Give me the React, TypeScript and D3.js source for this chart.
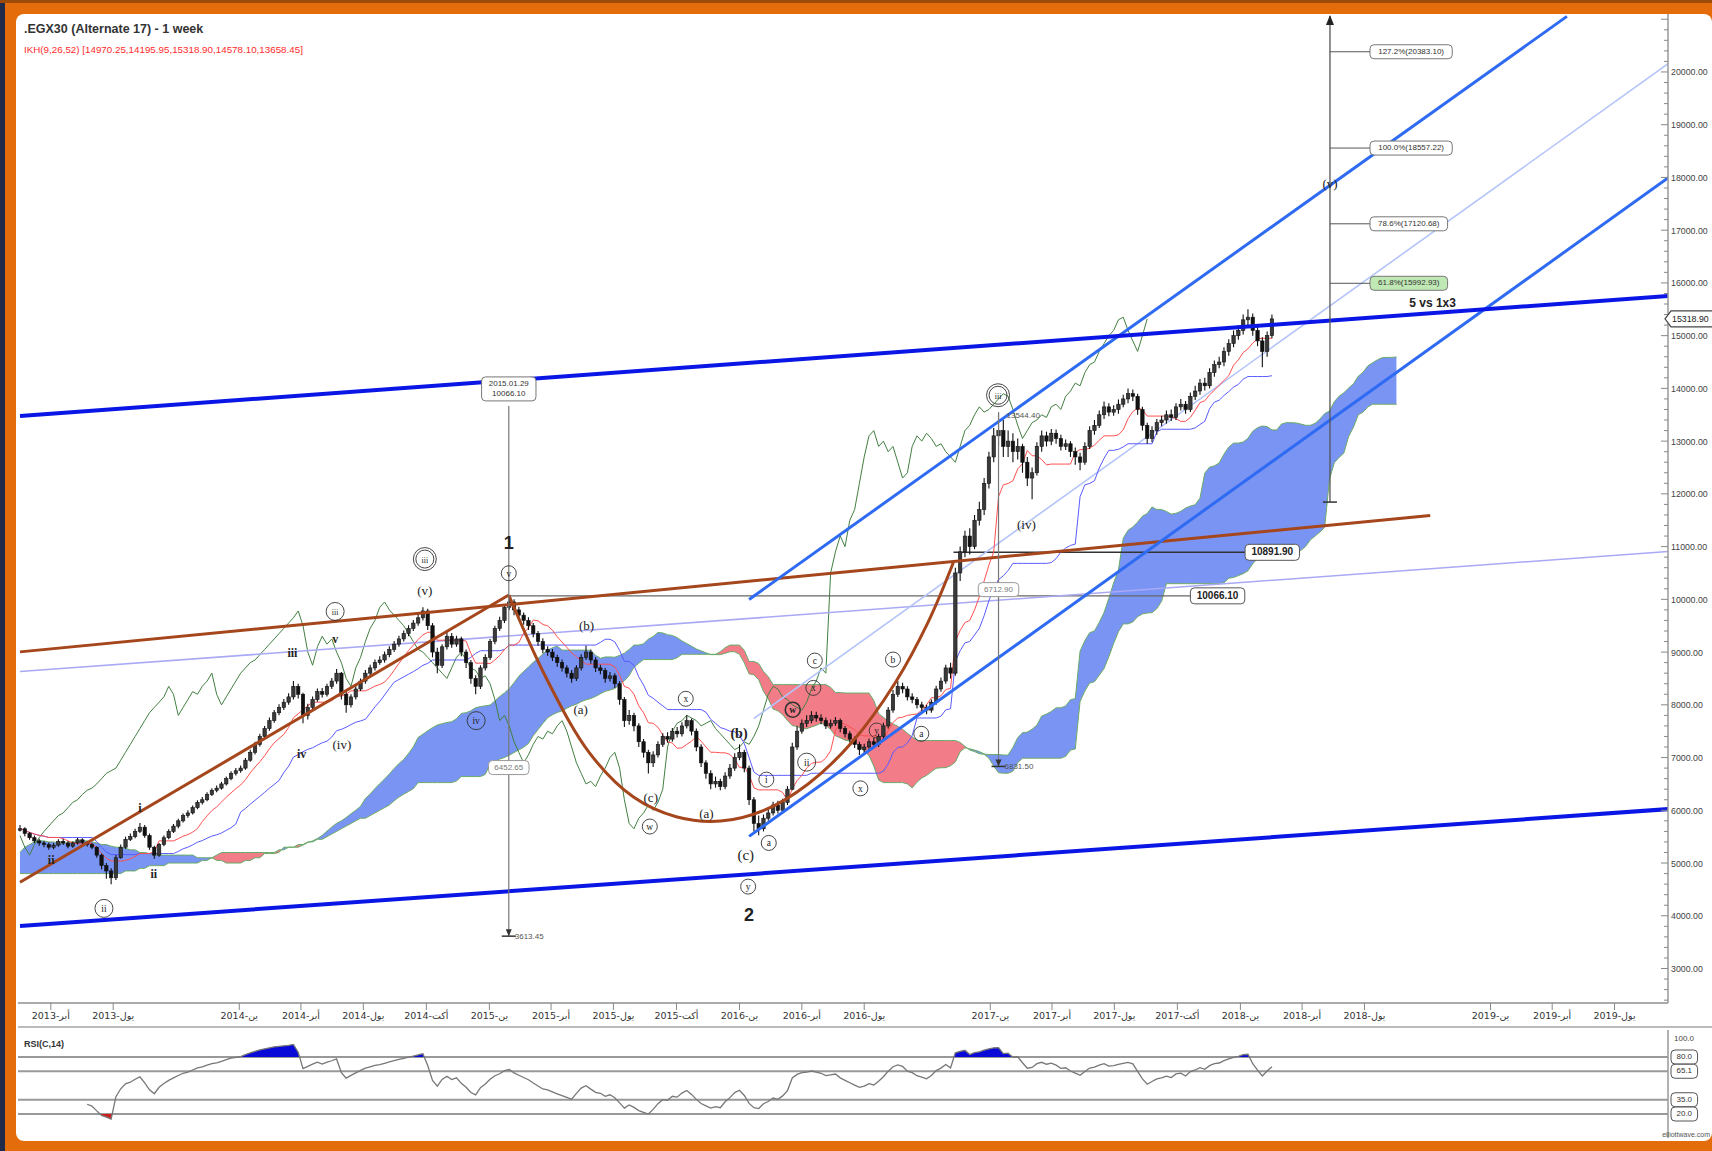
import React from "react";
import * as d3 from "d3";

const WIDTH = 1712;
const HEIGHT = 1151;
const PLOT = { left: 18, right: 1668, top: 14, bottom: 1002 };
const RSI_PANEL = { top: 1030, bottom: 1138 };
const DAY = 86400000;
const WEEK0 = Date.UTC(2013, 1, 15);
const DOMAIN_START = Date.UTC(2013, 1, 15);
const DOMAIN_END = Date.UTC(2019, 8, 17);
const PRICE_MIN = 2365;
const PRICE_MAX = 21080;

// weekly closes (index = week number from 2013-02-15)
const closes = [
  5650, 5560, 5480, 5420, 5380, 5350,
  5300, 5340, 5410, 5380, 5320, 5380, 5440, 5390, 5350, 5300,
  5150, 4950, 4850, 4720, 5100,
  5300, 5450, 5500, 5600, 5680, 5520, 5300, 5150, 5350, 5480,
  5600, 5700, 5800, 5900, 5950, 6050, 6150, 6200, 6300, 6380,
  6420, 6500, 6600, 6700, 6750, 6800, 6950, 7100, 7250, 7400,
  7550, 7700, 7850, 7950, 8050, 8150, 8350, 8200,
  7800, 7950,
  8100, 8250, 8200, 8350, 8450, 8600,
  8200, 8000,
  8150, 8300, 8450, 8600, 8700, 8800, 8850, 8950, 9050, 9150, 9250, 9350, 9450, 9550, 9650, 9780,
  9500, 9000, 8750, 9100, 9300, 9150, 9250, 9000, 8800,
  8500, 8350, 8700, 8900,
  9200, 9450, 9600, 9850, 9950,
  9800, 9700, 9600, 9500, 9350, 9200, 9050, 9000, 8900, 8800,
  8700, 8600, 8500, 8700, 8900, 9000,
  8850, 8700, 8650, 8500, 8550, 8400,
  8100, 7700, 7800,
  7600, 7300, 7100, 6900, 7050,
  7250, 7400, 7350, 7500, 7450, 7600, 7700, 7500,
  7200, 6900, 6700, 6500, 6550, 6450, 6650, 6800,
  7000, 7100, 6800,
  6200, 5750, 5650, 5850,
  5950, 6100, 6000, 6150, 6400, 7200, 7500,
  7650, 7700, 7800, 7750, 7700, 7600, 7650, 7700, 7550, 7450,
  7350, 7250, 7150, 7200, 7300, 7250, 7400, 7600,
  7900, 8200, 8350, 8300, 8150, 8100, 8000,
  7950, 7900, 8050,
  8300, 8450, 8700, 8600,
  10500, 10900, 11200, 11000, 11500, 11700,
  12200, 12700, 13100, 13200, 12900,
  13000, 12800, 12900, 12600, 12300, 12400,
  12900, 13100, 13000, 13150, 13050, 12900, 12950, 12800, 12700,
  12600, 12900, 13200, 13300,
  13500, 13650, 13550, 13600, 13700, 13800, 13900, 13850,
  13600, 13300, 13050, 13200, 13350,
  13400, 13500, 13450, 13650, 13700, 13600, 13850, 13950,
  14100, 14050, 14300, 14450, 14500,
  14700, 14850, 15000, 15100, 15300, 15350,
  15100, 14900, 14700, 15000, 15318.9,
];

const highs = [
  5720, 5680, 5590, 5520, 5460, 5420,
  5390, 5380, 5450, 5460, 5420, 5410, 5480, 5470, 5420, 5380,
  5320, 5180, 5000, 4900, 5150,
  5350, 5500, 5560, 5650, 5760, 5720, 5560, 5330, 5380, 5520,
  5640, 5740, 5840, 5940, 6000, 6090, 6190, 6250, 6340, 6420,
  6470, 6540, 6640, 6740, 6800, 6850, 6990, 7150, 7300, 7450,
  7600, 7760, 7900, 8010, 8110, 8220, 8450, 8400,
  8230, 8020,
  8160, 8310, 8320, 8400, 8510, 8680,
  8620, 8250,
  8200, 8360, 8500, 8660, 8760, 8860, 8920, 9010, 9110, 9210, 9310, 9410, 9510, 9610, 9720, 9850,
  9820, 9550, 9080, 9150, 9380, 9360, 9310, 9290, 9050,
  8850, 8560, 8750, 8960,
  9250, 9500, 9670, 9900, 10066.1,
  10000, 9860, 9750, 9660, 9550, 9400, 9260, 9110, 9060, 8950,
  8860, 8750, 8660, 8750, 8960, 9120,
  9050, 8900, 8760, 8700, 8620, 8600,
  8450, 8150, 7900,
  7850, 7650, 7350, 7150, 7120,
  7310, 7460, 7480, 7560, 7580, 7670, 7800, 7740,
  7550, 7250, 6950, 6760, 6640, 6600, 6720, 6880,
  7080, 7250, 7150,
  6850, 6250, 5900, 5920,
  6020, 6160, 6180, 6220, 6460, 7280, 7600,
  7720, 7800, 7880, 7870, 7820, 7760, 7720, 7770, 7740, 7600,
  7500, 7400, 7300, 7260, 7360, 7370, 7450, 7660,
  7960, 8280, 8450, 8420, 8350, 8220, 8150,
  8060, 8000, 8100,
  8360, 8520, 8760, 8800,
  10600, 11000, 11300, 11350, 11600, 11850,
  12300, 12800, 13250, 13544.4, 13400,
  13200, 13150, 13050, 12950, 12700, 12500,
  12980, 13200, 13180, 13230, 13220, 13120, 13030, 13000, 12880,
  12780, 12980, 13280, 13400,
  13580, 13750, 13720, 13680, 13790, 13880, 14000, 13980,
  13900, 13650, 13350, 13280, 13420,
  13480, 13580, 13600, 13720, 13800, 13760, 13920, 14050,
  14180, 14200, 14380, 14530, 14600,
  14780, 14930, 15100, 15200, 15400, 15500,
  15420, 15180, 14970, 15080, 15400,
];

const lows = [
  5600, 5510, 5440, 5380, 5330, 5300,
  5250, 5260, 5310, 5340, 5280, 5290, 5350, 5350, 5310, 5260,
  5100, 4880, 4700, 4600, 4680,
  5080, 5270, 5420, 5470, 5570, 5480, 5250, 5080, 5120, 5320,
  5450, 5570, 5660, 5770, 5860, 5920, 6020, 6110, 6170, 6270,
  6340, 6390, 6470, 6570, 6660, 6710, 6770, 6920, 7060, 7210,
  7360, 7510, 7660, 7800, 7900, 8000, 8100, 8120,
  7650, 7720,
  7900, 8060, 8140, 8160, 8300, 8400,
  8100, 7850,
  7950, 8100, 8260, 8400, 8550, 8650, 8760, 8800, 8900, 9000, 9100, 9200, 9300, 9400, 9500, 9600,
  9420, 8900, 8600, 8700, 9050, 9080, 9100, 8920, 8700,
  8400, 8200, 8300, 8650,
  8850, 9150, 9400, 9550, 9800,
  9700, 9620, 9520, 9420, 9280, 9120, 8980, 8930, 8830, 8720,
  8630, 8520, 8420, 8450, 8650, 8850,
  8780, 8620, 8580, 8420, 8440, 8320,
  8000, 7580, 7620,
  7500, 7200, 7000, 6700, 6820,
  7000, 7200, 7280, 7300, 7380, 7400, 7550, 7420,
  7120, 6820, 6600, 6400, 6430, 6380, 6400, 6600,
  6750, 6950, 6720,
  6100, 5600, 5525, 5600,
  5800, 5900, 5940, 5950, 6100, 6380, 7150,
  7450, 7580, 7650, 7680, 7630, 7540, 7550, 7600, 7480, 7380,
  7280, 7180, 7050, 7080, 7150, 7180, 7200, 7350,
  7550, 7850, 8150, 8220, 8080, 8030, 7930,
  7880, 7820, 7850,
  8000, 8250, 8400, 8500,
  8550, 10350, 10800, 10850, 10950, 11400,
  11600, 12100, 12600, 12900, 12700,
  12700, 12600, 12650, 12400, 12150, 11900,
  12350, 12800, 12900, 12920, 12950, 12820, 12830, 12700, 12550,
  12450, 12550, 12850, 13120,
  13250, 13420, 13470, 13480, 13520, 13640, 13720, 13760,
  13500, 13200, 12950, 12980, 13120,
  13280, 13330, 13380, 13400, 13580, 13520, 13550, 13780,
  13880, 13960, 14000, 14220, 14380,
  14420, 14620, 14780, 14920, 15020, 15200,
  15000, 14800, 14400, 14600, 14950,
];

// cloud spans at the start of the window (weeks 0..50 / 0..76)
const headSpanA = [
  5200, 5300, 5350, 5400, 5420, 5420, 5400, 5400, 5380, 5380,
  5380, 5400, 5400, 5420, 5420, 5400, 5380, 5350, 5350, 5320,
  5300, 5300, 5280, 5250, 5250, 5200, 5200, 5180, 5150, 5150,
  5150, 5150, 5150, 5150, 5150, 5150, 5150, 5100, 5100, 5100,
  5100, 5050, 5050, 5000, 5000, 5000, 5000, 5050, 5050, 5100, 5100,
];
const headSpanB = [
  4800, 4800, 4800, 4800, 4800, 4800, 4800, 4800, 4800, 4800,
  4800, 4800, 4800, 4800, 4800, 4800, 4800, 4800, 4800, 4800,
  4800, 4800, 4850, 4850, 4850, 4900, 4900, 4950, 4950, 4950,
  4950, 5000, 5000, 5000, 5000, 5000, 5000, 5000, 5050, 5050,
  5100, 5150, 5200, 5200, 5200, 5200, 5200, 5200, 5200, 5200,
  5200, 5200, 5200, 5200, 5250, 5250, 5300, 5300, 5350, 5350,
  5400, 5400, 5450, 5450, 5500, 5550, 5600, 5650, 5700, 5750,
  5800, 5850, 5850, 5900, 5950, 6000, 6050,
];

const priceTicks = [3000, 4000, 5000, 6000, 7000, 8000, 9000, 10000, 11000, 12000, 13000, 14000, 15000, 16000, 17000, 18000, 19000, 20000];

const dateTicks: [string, string][] = [
  ["2013-04-01", "2013-أبر"], ["2013-07-01", "2013-يول"],
  ["2014-01-01", "2014-ين"], ["2014-04-01", "2014-أبر"], ["2014-07-01", "2014-يول"], ["2014-10-01", "2014-أكت"],
  ["2015-01-01", "2015-ين"], ["2015-04-01", "2015-أبر"], ["2015-07-01", "2015-يول"], ["2015-10-01", "2015-أكت"],
  ["2016-01-01", "2016-ين"], ["2016-04-01", "2016-أبر"], ["2016-07-01", "2016-يول"],
  ["2017-01-01", "2017-ين"], ["2017-04-01", "2017-أبر"], ["2017-07-01", "2017-يول"], ["2017-10-01", "2017-أكت"],
  ["2018-01-01", "2018-ين"], ["2018-04-01", "2018-أبر"], ["2018-07-01", "2018-يول"],
  ["2019-01-01", "2019-ين"], ["2019-04-01", "2019-أبر"], ["2019-07-01", "2019-يول"],
];

// trend lines: [week0, price0, week1, price1]
const trendLines = [
  { name: "lavender", pts: [0, 8631, 343.7, 10909], color: "#a9a9f5", w: 1.6 },
  { name: "midChannel", pts: [153, 7741, 343.7, 20164], color: "#b4c4fa", w: 1.6 },
  { name: "brownLong", pts: [0, 9004, 294, 11592], color: "#a5461c", w: 3 },
  { name: "brownRise", pts: [0, 4636, 101.9, 10081], color: "#a5461c", w: 3 },
  { name: "medUpper", pts: [152, 9998, 322.5, 21054], color: "#2e6bf2", w: 3 },
  { name: "medLower", pts: [152, 5505, 343.7, 18000], color: "#2e6bf2", w: 3 },
  { name: "thickUpper", pts: [0, 13476, 343.7, 15754], color: "#0a16e6", w: 4 },
  { name: "thickLower", pts: [0, 3807, 343.7, 6023], color: "#0a16e6", w: 4 },
];

const cupPoints: [number, number][] = [
  [101.9, 10081], [109.6, 8528], [118.8, 7079], [127.9, 6251], [136.8, 5878], [146.1, 5795],
  [155.2, 6002], [164.3, 6499], [173.4, 7286], [182.5, 8424], [189.3, 9563], [194.6, 10702],
];

const levelLines = [
  { price: 10066.1, w0: 101.9, w1: 244, label: "10066.10" },
  { price: 10891.9, w0: 194.6, w1: 255.4, label: "10891.90" },
];

const measures = [
  { week: 101.9, top: 10066.1, bottom: 3613.45, midPrice: 6810, midText: "6452.65", topBox: ["2015.01.29", "10066.10"], topBoxPrice: 13990 },
  { week: 204, top: 13544.4, bottom: 6831.5, midPrice: 10184, midText: "6712.90", topBox: null, topBoxPrice: 0 },
];

const fibWeek = 273.1;
const fibBase = 11844.42;
const fibRange = 6712.8;
const fibRatios = [1.272, 1.0, 0.786, 0.618];

const waveLabels = [
  { w: 17.5, p: 4140, t: "ii", k: "circle" },
  { w: 6.5, p: 5070, t: "ii", k: "roman" },
  { w: 25, p: 6043, t: "i", k: "roman" },
  { w: 27.9, p: 4801, t: "ii", k: "roman" },
  { w: 56.8, p: 8983, t: "iii", k: "roman" },
  { w: 58.7, p: 7079, t: "iv", k: "roman" },
  { w: 65.7, p: 9770, t: "iii", k: "circle" },
  { w: 65.7, p: 9253, t: "v", k: "roman" },
  { w: 67.1, p: 7244, t: "(iv)", k: "paren" },
  { w: 84.4, p: 10164, t: "(v)", k: "paren" },
  { w: 84.4, p: 10764, t: "iii", k: "circle2" },
  { w: 95.1, p: 7700, t: "iv", k: "circle" },
  { w: 101.9, p: 11075, t: "1", k: "big" },
  { w: 101.9, p: 10495, t: "v", k: "circle" },
  { w: 118.1, p: 9501, t: "(b)", k: "paren" },
  { w: 116.9, p: 7907, t: "(a)", k: "paren" },
  { w: 131.5, p: 6251, t: "(c)", k: "paren" },
  { w: 131.3, p: 5692, t: "w", k: "circle" },
  { w: 138.8, p: 8114, t: "x", k: "circle" },
  { w: 143.1, p: 5940, t: "(a)", k: "paren" },
  { w: 149.9, p: 7472, t: "(b)", k: "parenBold" },
  { w: 151.3, p: 5153, t: "(c)", k: "parenBig" },
  { w: 156.1, p: 5381, t: "a", k: "circle" },
  { w: 151.8, p: 4553, t: "y", k: "circle" },
  { w: 152, p: 4015, t: "2", k: "big" },
  { w: 155.6, p: 6582, t: "i", k: "circle" },
  { w: 164, p: 6913, t: "ii", k: "circle" },
  { w: 161.1, p: 7907, t: "w", k: "circleBold" },
  { w: 165.4, p: 8321, t: "x", k: "circle" },
  { w: 165.7, p: 8839, t: "c", k: "circle" },
  { w: 175.2, p: 6416, t: "x", k: "circle" },
  { w: 178.6, p: 7513, t: "y", k: "circle" },
  { w: 182, p: 8859, t: "b", k: "circle" },
  { w: 187.9, p: 7451, t: "a", k: "circle" },
  { w: 203.9, p: 13870, t: "iii", k: "circle2" },
  { w: 209.8, p: 11427, t: "(iv)", k: "paren" },
  { w: 273.1, p: 17894, t: "(v)", k: "paren" },
  { w: 294.5, p: 15619, t: "5 vs 1x3", k: "bold" },
];

const rsiLevels = [80, 65, 35, 20];
const rsiLevelLabels = ["80.0", "65.1", "35.0", "20.0"];

function Box(props: any) {
  const { x, y, text, fs = 10, anchor = "start", bold = false, fill = "#fff", stroke = "#666", color = "#222", lines } = props;
  const rows: string[] = lines || [text];
  const maxLen = Math.max(...rows.map((r) => r.length));
  const w = maxLen * fs * 0.58 + 8;
  const h = rows.length * (fs + 2) + 4;
  const left = anchor === "middle" ? x - w / 2 : anchor === "end" ? x - w : x;
  return (
    <g>
      <rect x={left} y={y - h / 2} width={w} height={h} rx={4} fill={fill} stroke={stroke} strokeWidth={1} />
      {rows.map((r, k) => (
        <text key={k} x={left + w / 2} y={y - h / 2 + 2 + (k + 1) * (fs + 2) - 3} textAnchor="middle" fontSize={fs} fontWeight={bold ? "bold" : "normal"} fill={color}>
          {r}
        </text>
      ))}
    </g>
  );
}

export default function App() {
  const n = closes.length;
  const x = d3.scaleUtc().domain([new Date(DOMAIN_START), new Date(DOMAIN_END)]).range([20, PLOT.right]);
  const xw = (w: number) => x(new Date(WEEK0 + w * 7 * DAY));
  const y = d3.scaleLinear().domain([PRICE_MIN, PRICE_MAX]).range([PLOT.bottom, 15]);
  const ry = d3.scaleLinear().domain([0, 100]).range([1133, 1038]);

  const opens = closes.map((c, i) => (i === 0 ? c : closes[i - 1]));
  const mid = (i: number, len: number) => {
    const a = Math.max(0, i - len + 1);
    const hi = d3.max(highs.slice(a, i + 1)) as number;
    const lo = d3.min(lows.slice(a, i + 1)) as number;
    return (hi + lo) / 2;
  };
  const tenkan = closes.map((_, i) => mid(i, 9));
  const kijun = closes.map((_, i) => mid(i, 26));
  const cloud = d3.range(n + 26).map((j) => {
    const a = j < headSpanA.length ? headSpanA[j] : (tenkan[j - 26] + kijun[j - 26]) / 2;
    const b = j < headSpanB.length ? headSpanB[j] : mid(j - 26, 52);
    return { j, a, b };
  });

  // RSI (Wilder, 14)
  const rsi: (number | null)[] = closes.map(() => null);
  let ag = 0, al = 0;
  for (let i = 1; i <= 14; i++) {
    const d = closes[i] - closes[i - 1];
    if (d > 0) ag += d; else al -= d;
  }
  ag /= 14; al /= 14;
  rsi[14] = al === 0 ? 100 : 100 - 100 / (1 + ag / al);
  for (let i = 15; i < n; i++) {
    const d = closes[i] - closes[i - 1];
    ag = (ag * 13 + Math.max(d, 0)) / 14;
    al = (al * 13 + Math.max(-d, 0)) / 14;
    rsi[i] = al === 0 ? 100 : 100 - 100 / (1 + ag / al);
  }
  const rsiPts = rsi.map((v, i) => ({ i, v })).filter((d) => d.v !== null) as { i: number; v: number }[];

  const areaAB = d3.area<any>().x((d) => xw(d.j)).y0((d) => y(d.b)).y1((d) => y(d.a))(cloud) || "";
  const aboveB = d3.area<any>().x((d) => xw(d.j)).y0((d) => y(d.b)).y1(0)(cloud) || "";
  const belowB = d3.area<any>().x((d) => xw(d.j)).y0((d) => y(d.b)).y1(HEIGHT)(cloud) || "";
  const lineA = d3.line<any>().x((d) => xw(d.j)).y((d) => y(d.a))(cloud) || "";
  const lineB = d3.line<any>().x((d) => xw(d.j)).y((d) => y(d.b))(cloud) || "";
  const seriesLine = (arr: number[]) => d3.line<number>().x((_, i) => xw(i)).y((d) => y(d))(arr) || "";
  const chikou = d3.line<number>().x((_, i) => xw(i)).y((d) => y(d))(closes.slice(26)) || "";
  const cupPath = d3.line<[number, number]>().x((d) => xw(d[0])).y((d) => y(d[1])).curve(d3.curveCatmullRom.alpha(0.5))(cupPoints) || "";
  const rsiLine = d3.line<any>().x((d) => xw(d.i)).y((d) => ry(d.v))(rsiPts) || "";
  const rsiUpper = d3.area<any>().x((d) => xw(d.i)).y0(ry(80)).y1((d) => ry(d.v))(rsiPts) || "";
  const rsiLower = d3.area<any>().x((d) => xw(d.i)).y0(ry(20)).y1((d) => ry(d.v))(rsiPts) || "";

  const minorTicks = d3.range(2400, 21001, 200);
  const lastClose = closes[n - 1];
  const font = "'Liberation Sans', Arial, sans-serif";
  const fx = xw(fibWeek);

  return (
    <svg width={WIDTH} height={HEIGHT} style={{ position: "absolute", left: 0, top: 0 }} fontFamily={font}>
      <defs>
        <clipPath id="plotClip"><rect x={PLOT.left} y={PLOT.top} width={PLOT.right - PLOT.left} height={PLOT.bottom - PLOT.top} /></clipPath>
        <clipPath id="aboveB"><path d={aboveB} /></clipPath>
        <clipPath id="belowB"><path d={belowB} /></clipPath>
        <clipPath id="rsiClip"><rect x={PLOT.left} y={RSI_PANEL.top} width={PLOT.right - PLOT.left} height={RSI_PANEL.bottom - RSI_PANEL.top} /></clipPath>
        <clipPath id="rsiAbove"><rect x={0} y={0} width={WIDTH} height={ry(80)} /></clipPath>
        <clipPath id="rsiBelow"><rect x={0} y={ry(20)} width={WIDTH} height={HEIGHT} /></clipPath>
      </defs>

      {/* frame */}
      <rect x={0} y={0} width={WIDTH} height={HEIGHT} fill="#e46c0a" />
      <rect x={0} y={0} width={5} height={HEIGHT} fill="#1f2b48" />
      <rect x={0} y={0} width={WIDTH} height={3} fill="#9c4a08" />
      <rect x={16} y={14} width={WIDTH - 16} height={1127} rx={8} fill="#ffffff" />

      {/* title */}
      <text x={24} y={33} fontSize={12.5} fontWeight="bold" fill="#333">.EGX30 (Alternate 17) - 1 week</text>
      <text x={24} y={53} fontSize={9.8} fill="#ff2a2a">IKH(9,26,52) [14970.25,14195.95,15318.90,14578.10,13658.45]</text>

      {/* main plot */}
      <g clipPath="url(#plotClip)">
        <path d={areaAB} fill="#7a94f4" clipPath="url(#aboveB)" />
        <path d={areaAB} fill="#f27c88" clipPath="url(#belowB)" />
        <path d={lineA} fill="none" stroke="#68ac68" strokeWidth={1} />
        <path d={lineB} fill="none" stroke="#68ac68" strokeWidth={1} />
        <path d={chikou} fill="none" stroke="#427f42" strokeWidth={1} />

        {levelLines.map((l, k) => (
          <line key={k} x1={xw(l.w0)} x2={xw(l.w1)} y1={y(l.price)} y2={y(l.price)} stroke={k === 0 ? "#666" : "#333"} strokeWidth={k === 0 ? 1.2 : 1.6} />
        ))}

        {trendLines.filter((t) => t.w < 3).map((t) => (
          <line key={t.name} x1={xw(t.pts[0])} y1={y(t.pts[1])} x2={xw(t.pts[2])} y2={y(t.pts[3])} stroke={t.color} strokeWidth={t.w} />
        ))}

        <path d={seriesLine(kijun)} fill="none" stroke="#5a5aff" strokeWidth={1} />
        <path d={seriesLine(tenkan)} fill="none" stroke="#ff5050" strokeWidth={1} />

        {closes.map((c, i) => {
          const o = opens[i];
          const cx = xw(i);
          const top = y(Math.max(o, c));
          const bot = y(Math.min(o, c));
          const up = c >= o;
          return (
            <g key={i}>
              <line x1={cx} x2={cx} y1={y(highs[i])} y2={y(lows[i])} stroke="#111" strokeWidth={1.1} />
              <rect x={cx - 1.7} y={top} width={3.4} height={Math.max(1.5, bot - top)} fill={up ? "#3a3a3a" : "#111"} stroke="#111" strokeWidth={0.6} />
            </g>
          );
        })}

        <path d={cupPath} fill="none" stroke="#a5461c" strokeWidth={3} />
        {trendLines.filter((t) => t.w >= 3).map((t) => (
          <line key={t.name} x1={xw(t.pts[0])} y1={y(t.pts[1])} x2={xw(t.pts[2])} y2={y(t.pts[3])} stroke={t.color} strokeWidth={t.w} />
        ))}

        {/* measurement lines */}
        {measures.map((m, k) => {
          const mx = xw(m.week);
          const yTop = m.topBox ? y(m.topBoxPrice) + 17 : y(m.top);
          return (
            <g key={k}>
              <line x1={mx} x2={mx} y1={yTop} y2={y(m.bottom)} stroke="#777" strokeWidth={1.2} />
              <line x1={mx - 7} x2={mx + 7} y1={y(m.bottom)} y2={y(m.bottom)} stroke="#333" strokeWidth={1.5} />
              <path d={`M${mx - 3},${y(m.bottom) - 7} L${mx + 3},${y(m.bottom) - 7} L${mx},${y(m.bottom)} Z`} fill="#333" />
              <text x={mx + 6} y={y(m.bottom) + 3} fontSize={8} fill="#555">{m.bottom.toFixed(2)}</text>
              <Box x={mx} y={y(m.midPrice)} text={m.midText} fs={8} anchor="middle" color="#777" stroke="#999" />
              {m.topBox ? (
                <Box x={mx} y={y(m.topBoxPrice)} lines={m.topBox} fs={8} anchor="middle" color="#333" stroke="#777" />
              ) : (
                <text x={mx + 8} y={y(m.top) + 6} fontSize={8} fill="#555">{m.top.toFixed(2)}</text>
              )}
            </g>
          );
        })}

        {/* fib projection */}
        <line x1={fx} x2={fx} y1={y(fibBase)} y2={16} stroke="#555" strokeWidth={1.3} />
        <path d={`M${fx - 4},${25} L${fx + 4},${25} L${fx},${15} Z`} fill="#222" />
        <line x1={fx - 7} x2={fx + 7} y1={y(fibBase)} y2={y(fibBase)} stroke="#333" strokeWidth={1.5} />
        {fibRatios.map((r, k) => {
          const p = fibBase + r * fibRange;
          const txt = `${(r * 100).toFixed(1)}%(${p.toFixed(2)})`;
          return (
            <g key={k}>
              <line x1={fx} x2={1370} y1={y(p)} y2={y(p)} stroke="#555" strokeWidth={1} />
              <Box x={1370} y={y(p)} text={txt} fs={8} fill={r === 0.618 ? "#bfe8b4" : "#fff"} stroke="#777" color="#333" />
            </g>
          );
        })}

        {/* wave labels */}
        {waveLabels.map((l, k) => {
          const lx = xw(l.w);
          const ly = y(l.p);
          if (l.k === "circle" || l.k === "circle2" || l.k === "circleBold") {
            const r = l.t.length > 1 ? 9 : 7.5;
            return (
              <g key={k}>
                <circle cx={lx} cy={ly} r={r} fill="none" stroke="#333" strokeWidth={l.k === "circleBold" ? 1.6 : 0.9} />
                {l.k === "circle2" && <circle cx={lx} cy={ly} r={r + 2.5} fill="none" stroke="#333" strokeWidth={0.9} />}
                <text x={lx} y={ly + 3.5} textAnchor="middle" fontSize={l.t.length > 2 ? 8 : 9.5} fontWeight={l.k === "circleBold" ? "bold" : "normal"} fontFamily="'Liberation Serif', serif" fill="#222">{l.t}</text>
              </g>
            );
          }
          const style: any = {
            paren: { fs: 13, fw: "normal", ff: "'Liberation Serif', serif" },
            parenBold: { fs: 14, fw: "bold", ff: "'Liberation Serif', serif" },
            parenBig: { fs: 15, fw: "normal", ff: "'Liberation Serif', serif" },
            roman: { fs: 12, fw: "bold", ff: "'Liberation Serif', serif" },
            big: { fs: 18, fw: "bold", ff: "'Liberation Sans', sans-serif" },
            bold: { fs: 12, fw: "bold", ff: "'Liberation Sans', sans-serif" },
          }[l.k];
          return (
            <text key={k} x={lx} y={ly + style.fs * 0.35} textAnchor="middle" fontSize={style.fs} fontWeight={style.fw} fontFamily={style.ff} fill="#222">{l.t}</text>
          );
        })}
      </g>

      {/* level boxes */}
      {levelLines.map((l, k) => (
        <Box key={k} x={xw(l.w1)} y={y(l.price)} text={l.label} fs={10} bold={true} stroke="#555" color="#222" />
      ))}

      {/* plot frame */}
      <line x1={PLOT.left} x2={PLOT.right} y1={PLOT.bottom + 1} y2={PLOT.bottom + 1} stroke="#aaa" strokeWidth={2} />
      <line x1={PLOT.right} x2={PLOT.right} y1={PLOT.top} y2={PLOT.bottom + 1} stroke="#999" strokeWidth={1.5} />
      <line x1={PLOT.left} x2={WIDTH} y1={1027} y2={1027} stroke="#bbb" strokeWidth={2} />

      {/* right price axis */}
      {minorTicks.filter((v) => v > PRICE_MIN && v < PRICE_MAX).map((v) => (
        <line key={v} x1={PLOT.right - (v % 1000 === 0 ? 7 : 4)} x2={PLOT.right} y1={y(v)} y2={y(v)} stroke="#888" strokeWidth={1} />
      ))}
      {priceTicks.map((v) => (
        <text key={v} x={PLOT.right + 3} y={y(v) + 3.5} fontSize={8.8} fill="#444">{v.toFixed(2)}</text>
      ))}
      <g>
        <path d={`M${PLOT.right - 3},${y(lastClose)} L${PLOT.right + 3},${y(lastClose) - 8} L${WIDTH + 4},${y(lastClose) - 8} L${WIDTH + 4},${y(lastClose) + 8} L${PLOT.right + 3},${y(lastClose) + 8} Z`} fill="#fff" stroke="#444" strokeWidth={1.2} />
        <text x={PLOT.right + 4} y={y(lastClose) + 3.3} fontSize={8.8} fill="#222">{lastClose.toFixed(2)}</text>
      </g>

      {/* date axis */}
      {dateTicks.map(([d, lab]) => {
        const tx = x(new Date(d + "T00:00:00Z"));
        return (
          <g key={d}>
            <line x1={tx} x2={tx} y1={PLOT.bottom + 1} y2={PLOT.bottom + 8} stroke="#888" strokeWidth={1} />
            <text x={tx} y={1019} textAnchor="middle" fontSize={9.5} fontFamily="'DejaVu Sans', sans-serif" fill="#333">{lab}</text>
          </g>
        );
      })}

      {/* RSI panel */}
      <text x={24} y={1047} fontSize={9} fontWeight="bold" fill="#333">RSI(C,14)</text>
      {rsiLevels.map((v) => (
        <line key={v} x1={PLOT.left} x2={PLOT.right} y1={ry(v)} y2={ry(v)} stroke="#999" strokeWidth={2} />
      ))}
      <g clipPath="url(#rsiClip)">
        <path d={rsiUpper} fill="#0a0ad8" clipPath="url(#rsiAbove)" />
        <path d={rsiLower} fill="#cc2020" clipPath="url(#rsiBelow)" />
        <path d={rsiLine} fill="none" stroke="#777" strokeWidth={1.3} />
      </g>
      <line x1={PLOT.right} x2={PLOT.right} y1={RSI_PANEL.top} y2={RSI_PANEL.bottom} stroke="#999" strokeWidth={1.5} />
      <text x={PLOT.right + 6} y={1041} fontSize={8} fill="#444">100.0</text>
      {rsiLevels.map((v, k) => (
        <Box key={v} x={PLOT.right + 3} y={ry(v)} text={rsiLevelLabels[k]} fs={8} stroke="#555" color="#333" />
      ))}
      <text x={WIDTH - 2} y={1137} textAnchor="end" fontSize={7} fill="#555">elliottwave.com</text>
    </svg>
  );
}
